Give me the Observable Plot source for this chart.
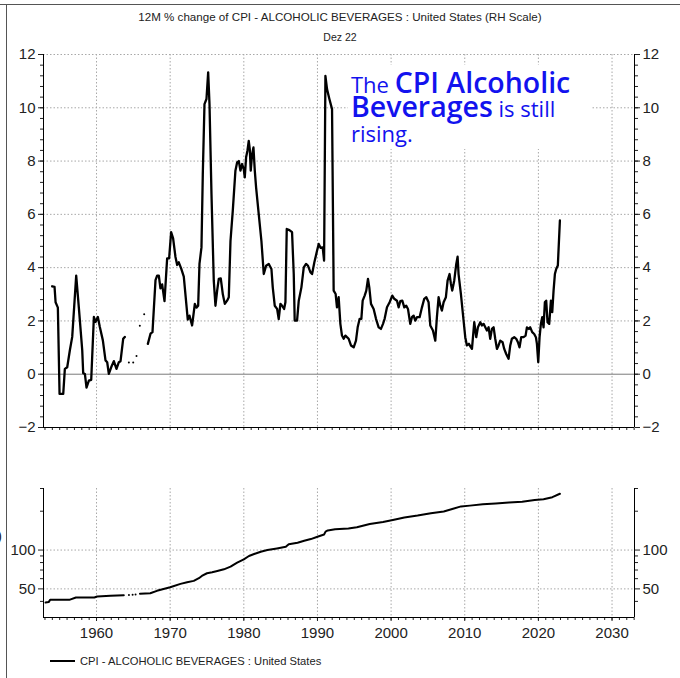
<!DOCTYPE html>
<html>
<head>
<meta charset="utf-8">
<script src="https://cdn.jsdelivr.net/npm/d3@7"></script>
<script src="https://cdn.jsdelivr.net/npm/@observablehq/plot@0.6"></script>
<style>
  body { margin: 0; background: #fff; }
  #fig { position: relative; width: 680px; height: 678px; overflow: hidden;
         font-family: "Liberation Sans", Arial, sans-serif; color: #222; }
  #frame { position: absolute; left: 6px; top: 4px; right: -2px; bottom: -2px;
           border-left: 1px solid #555; border-top: 1px solid #555; }
  #frameTop { position: absolute; left: 0; top: 4px; width: 8px; height: 1px; background: #555; }
  #title { position: absolute; left: 0; top: 10px; width: 680px; text-align: center; font-size: 11.6px; }
  #subtitle { position: absolute; left: 0; top: 31px; width: 680px; text-align: center; font-size: 10.5px; }
  .panel { position: absolute; left: 0; }
  #note { position: absolute; left: 348px; top: 65px; width: 244px; height: 84px; background: #fff;
          font-family: "Open Sans", sans-serif; color: #1212ee; }
  #note div { position: absolute; left: 3px; white-space: nowrap; }
  #note .r { font-size: 22px; font-weight: 400; }
  #note .b { font-size: 28.5px; font-weight: 600; }
  #legend { position: absolute; left: 50px; top: 655px; font-size: 11.2px; display: flex; align-items: center; }
  #legend .swatch { width: 25px; height: 2.5px; background: #000; margin-right: 5px; }
  #clip { position: absolute; left: -3px; top: 527px; font-size: 15px; }
</style>
</head>
<body>
<div id="fig">
  <div id="frame"></div>
  <div id="frameTop"></div>
  <div id="title">12M % change of CPI - ALCOHOLIC BEVERAGES : United States (RH Scale)</div>
  <div id="subtitle">Dez 22</div>
  <div id="top" class="panel" style="top:44px"></div>
  <div id="bottom" class="panel" style="top:470px"></div>
  <div id="note">
    <div style="top:-2.5px"><span class="r">The </span><span class="b">CPI Alcoholic</span></div>
    <div style="top:21.5px"><span class="b">Beverages</span><span class="r"> is still</span></div>
    <div style="top:52.5px"><span class="r">rising.</span></div>
  </div>
  <div id="clip">)</div>
  <div id="legend"><span class="swatch"></span><span>CPI - ALCOHOLIC BEVERAGES : United States</span></div>
</div>
<script>
// 12-month % change of the alcoholic beverages CPI (null marks the gap in the series)
const pctYears = [
  1953.98, 1954.30, 1954.44, 1954.75, 1954.98, 1955.48, 1955.70, 1956.02, 1956.38, 1956.70,
  1957.24, 1957.60, 1958.06, 1958.19, 1958.42, 1958.64, 1958.96, 1959.28, 1959.64, 1959.86,
  1960.18, 1960.45, 1960.86, 1961.22, 1961.45, 1961.67, 1961.99, 1962.35, 1962.71, 1963.03,
  1963.26, 1963.62, 1963.84, 1965.40,
  1966.97, 1967.33, 1967.60, 1968.01, 1968.23, 1968.46, 1968.68, 1968.91, 1969.23, 1969.59,
  1969.86, 1970.13, 1970.40, 1970.72, 1970.95, 1971.17, 1971.49, 1971.85, 1972.39, 1972.62,
  1972.98, 1973.35, 1973.57, 1973.80, 1973.98, 1974.25, 1974.43, 1974.66, 1974.93, 1975.16,
  1975.34, 1975.61, 1975.92, 1976.15, 1976.38, 1976.60, 1976.87, 1977.15, 1977.42, 1977.73,
  1977.96, 1978.19, 1978.50, 1978.86, 1979.09, 1979.32, 1979.54, 1979.77, 1979.99, 1980.13,
  1980.31, 1980.49, 1980.67, 1980.81, 1980.94, 1981.13, 1981.31, 1981.49, 1981.67, 1982.03,
  1982.39, 1982.71, 1983.03, 1983.39, 1983.75, 1983.93, 1984.20, 1984.52, 1984.74, 1984.97,
  1985.20, 1985.47, 1985.65, 1985.83, 1986.19, 1986.55, 1986.78, 1986.91, 1987.23, 1987.46,
  1987.82, 1988.14, 1988.45, 1988.72, 1989.04, 1989.27, 1989.58, 1989.95, 1990.17, 1990.44,
  1990.71, 1990.90, 1991.08, 1991.30, 1991.62, 1991.98, 1992.20, 1992.47, 1992.65, 1992.88,
  1993.11, 1993.33, 1993.56, 1993.79, 1994.01, 1994.24, 1994.55, 1994.92, 1995.23, 1995.46,
  1995.73, 1995.96, 1996.14, 1996.41, 1996.63, 1996.86, 1997.04, 1997.27, 1997.63, 1997.95,
  1998.31, 1998.62, 1998.90, 1999.12, 1999.44, 1999.80, 2000.16, 2000.43, 2000.80, 2001.02,
  2001.25, 2001.52, 2001.79, 2002.06, 2002.29, 2002.60, 2002.83, 2003.06, 2003.28, 2003.51,
  2003.87, 2004.19, 2004.50, 2004.78, 2005.09, 2005.32, 2005.68, 2006.00, 2006.22, 2006.45,
  2006.68, 2006.90, 2007.13, 2007.44, 2007.67, 2007.94, 2008.12, 2008.30, 2008.57, 2008.85,
  2009.03, 2009.16, 2009.48, 2009.75, 2010.07, 2010.29, 2010.56, 2010.84, 2010.98, 2011.29,
  2011.56, 2011.79, 2012.11, 2012.33, 2012.56, 2012.79, 2013.01, 2013.24, 2013.46, 2013.69,
  2013.92, 2014.14, 2014.37, 2014.59, 2014.82, 2015.14, 2015.36, 2015.63, 2015.95, 2016.18,
  2016.40, 2016.72, 2016.99, 2017.22, 2017.44, 2017.67, 2017.99, 2018.26, 2018.44, 2018.71,
  2018.89, 2019.16, 2019.43, 2019.66, 2019.80, 2019.98, 2020.16, 2020.34, 2020.52, 2020.70,
  2020.88, 2021.06, 2021.24, 2021.47, 2021.70, 2021.88, 2022.06, 2022.24, 2022.42, 2022.64,
  2022.92
];
const pctValues = [
  3.30, 3.28, 2.70, 2.50, -0.74, -0.74, 0.20, 0.26, 0.90, 1.40,
  3.70, 2.50, 0.90, 0.04, 0.01, -0.50, -0.24, -0.21, 2.15, 1.96,
  2.15, 1.77, 1.27, 0.52, 0.45, 0.01, 0.26, 0.49, 0.20, 0.45,
  0.49, 1.33, 1.40, null,
  1.14, 1.52, 1.58, 3.53, 3.70, 3.70, 3.22, 3.37, 2.74, 4.35,
  4.35, 5.33, 5.10, 4.40, 4.10, 4.20, 3.97, 3.66, 2.05, 2.20,
  1.83, 2.64, 2.50, 2.57, 4.14, 4.76, 7.50, 10.14, 10.33, 11.33,
  10.14, 6.76, 3.51, 2.57, 3.14, 3.58, 3.60, 3.00, 2.64, 2.76,
  2.89, 5.00, 6.13, 7.64, 7.95, 8.00, 7.64, 7.89, 7.70, 7.39,
  8.14, 8.39, 8.76, 8.45, 7.64, 8.26, 8.51, 7.64, 7.00, 6.00,
  5.00, 3.76, 4.07, 4.14, 3.95, 3.26, 2.57, 2.45, 2.07, 2.64,
  2.57, 2.45, 2.70, 5.45, 5.41, 5.33, 3.76, 2.01, 2.01, 2.76,
  3.26, 4.01, 4.14, 4.07, 3.83, 3.76, 4.20, 4.64, 4.89, 4.74,
  4.76, 4.26, 11.20, 10.70, 10.33, 9.95, 3.14, 3.01, 2.51, 2.89,
  1.89, 1.45, 1.33, 1.45, 1.39, 1.33, 1.08, 1.01, 1.26, 1.76,
  2.08, 2.08, 2.76, 2.95, 3.14, 3.58, 3.26, 2.64, 2.45, 2.08,
  1.76, 1.70, 1.89, 2.08, 2.51, 2.70, 2.95, 2.83, 2.76, 2.51,
  2.74, 2.76, 2.51, 2.57, 2.45, 1.89, 2.14, 2.20, 2.01, 2.14,
  2.14, 2.51, 2.83, 2.89, 2.70, 1.83, 1.64, 1.26, 2.14, 2.89,
  2.57, 2.39, 2.70, 2.89, 3.51, 3.76, 3.39, 3.14, 3.51, 4.14,
  4.41, 3.76, 3.01, 2.26, 1.39, 1.08, 1.14, 1.01, 0.95, 1.95,
  1.39, 1.76, 1.95, 1.83, 1.89, 1.76, 1.64, 1.76, 1.33, 1.70,
  1.76, 1.33, 0.95, 1.08, 1.26, 1.20, 0.95, 0.76, 0.58, 1.08,
  1.33, 1.39, 1.33, 1.20, 1.01, 1.39, 1.39, 1.45, 1.76, 1.70,
  1.76, 1.58, 1.51, 1.39, 1.14, 0.45, 1.39, 1.89, 2.14, 1.76,
  2.70, 2.76, 1.95, 1.89, 2.76, 2.33, 3.14, 3.76, 3.95, 4.08,
  5.77
];
// isolated 12-month readings inside the gap
const pctDotYears = [1964.39, 1964.98, 1965.43, 1965.88, 1966.47];
const pctDotValues = [0.44, 0.44, 0.68, 1.82, 2.25];

// CPI level, alcoholic beverages (log scale)
const cpiYears = [
  1953.08, 1953.50, 1953.70, 1956.30, 1957.20, 1959.70, 1960.10, 1961.90, 1963.70, 1964.80,
  1965.90, 1967.30, 1968.20, 1970.00, 1971.40, 1972.30, 1973.20, 1973.90, 1974.30, 1975.00,
  1975.70, 1976.40, 1977.30, 1978.20, 1979.10, 1980.00, 1980.70, 1981.40, 1982.30, 1983.20,
  1984.50, 1985.70, 1986.10, 1987.30, 1988.20, 1989.10, 1990.00, 1990.90, 1991.10, 1991.40,
  1992.40, 1994.20, 1995.35, 1997.10, 1998.90, 2000.40, 2001.80, 2003.60, 2005.40, 2007.15,
  2008.30, 2009.50, 2010.70, 2012.45, 2014.20, 2016.00, 2017.80, 2019.50, 2020.70, 2021.90,
  2022.92
];
const cpiValues = [
  39.2, 39.5, 41.1, 41.1, 42.9, 42.9, 43.6, 44.2, 44.7, null,
  45.8, 46.3, 48.3, 51.5, 54.7, 56.3, 57.7, 60.5, 63.0, 66.1,
  67.3, 68.8, 70.9, 74.3, 79.8, 84.7, 89.9, 93.1, 97.1, 100,
  103, 106, 111, 113.9, 118, 121.6, 126.7, 132, 139, 142,
  145, 147, 150, 159, 165, 172, 179, 185, 193, 199,
  208, 218, 221, 226, 230, 234, 237, 244, 248, 257,
  273
];
const cpiDotYears = [1964.4, 1964.9, 1965.3];
const cpiDotValues = [44.8, 45.0, 45.3];

// axis ticks
const decadeTicks = [1960, 1970, 1980, 1990, 2000, 2010, 2020, 2030];
const yearTicks = d3.range(1953, 2034);
const pctMajor = [-2, 0, 2, 4, 6, 8, 10, 12];
const pctMinor = d3.range(0, 36).map(i => +(-2 + i * 0.4).toFixed(1));
const cpiMajor = [50, 100];
const cpiMinor = [40, 60, 70, 80, 90, 200, 300];

const xDomain = [1952.8, 2033.05];
const toRows = (xs, ys) => xs.map((x, i) => ({year: x, value: ys[i]}));
const grid = {stroke: "#a8a8a8", strokeDasharray: "1.5,2", strokeWidth: 1};
const font = {fontFamily: "'Liberation Sans', Arial, sans-serif", fontSize: "15px", color: "#222", background: "transparent", overflow: "visible"};
const blank = () => "";

const topChart = Plot.plot({
  width: 680, height: 400,
  marginLeft: 43, marginRight: 46, marginTop: 10, marginBottom: 17,
  style: font,
  x: {domain: xDomain, axis: null},
  y: {domain: [-2, 12], axis: null},
  marks: [
    Plot.ruleX(decadeTicks.filter(d => d < 2033), grid),
    Plot.ruleY(pctMajor.filter(d => d > 0), grid),
    Plot.ruleY([0], {stroke: "#7a7a7a", strokeWidth: 1}),
    Plot.line(toRows(pctYears, pctValues), {x: "year", y: "value", stroke: "#000", strokeWidth: 2.3}),
    Plot.dot(toRows(pctDotYears, pctDotValues), {x: "year", y: "value", r: 1, fill: "#000"}),
    Plot.axisY(pctMajor, {anchor: "left", tickSize: 5, tickPadding: 3, label: null}),
    Plot.axisY(pctMinor, {anchor: "left", tickSize: 3, tickFormat: blank, label: null}),
    Plot.axisY(pctMajor, {anchor: "right", tickSize: 5, tickPadding: 3, label: null}),
    Plot.axisY(pctMinor, {anchor: "right", tickSize: 3, tickFormat: blank, label: null}),
    Plot.axisX(yearTicks, {anchor: "bottom", tickSize: 3, tickFormat: blank, label: null}),
    Plot.ruleX(xDomain, {stroke: "#000"}),
    Plot.ruleY([-2], {stroke: "#000"})
  ]
});
document.getElementById("top").append(topChart);

const bottomChart = Plot.plot({
  width: 680, height: 180,
  marginLeft: 43, marginRight: 46, marginTop: 18, marginBottom: 33,
  style: font,
  x: {domain: xDomain, axis: null},
  y: {type: "log", domain: [30, 300], axis: null},
  marks: [
    Plot.ruleX(decadeTicks.filter(d => d < 2033), grid),
    Plot.ruleY(cpiMajor, grid),
    Plot.line(toRows(cpiYears, cpiValues), {x: "year", y: "value", stroke: "#000", strokeWidth: 2}),
    Plot.dot(toRows(cpiDotYears, cpiDotValues), {x: "year", y: "value", r: 1, fill: "#000"}),
    Plot.axisY(cpiMajor, {anchor: "left", tickSize: 5, tickFormat: blank, label: null}),
    Plot.axisY(cpiMinor, {anchor: "left", tickSize: 3, tickFormat: blank, label: null}),
    Plot.axisY(cpiMajor, {anchor: "right", tickSize: 5, tickFormat: blank, label: null}),
    Plot.axisY(cpiMinor, {anchor: "right", tickSize: 3, tickFormat: blank, label: null}),
    Plot.text(cpiMajor, {y: d => d, text: d => String(d), frameAnchor: "left", textAnchor: "end", dx: -8}),
    Plot.text(cpiMajor, {y: d => d, text: d => String(d), frameAnchor: "right", textAnchor: "start", dx: 8}),
    Plot.axisX(decadeTicks, {anchor: "bottom", tickSize: 4, tickPadding: 6, tickFormat: d3.format("d"), label: null}),
    Plot.axisX(yearTicks, {anchor: "bottom", tickSize: 3, tickFormat: blank, label: null}),
    Plot.ruleX(xDomain, {stroke: "#000"}),
    Plot.ruleY([30], {stroke: "#000"})
  ]
});
document.getElementById("bottom").append(bottomChart);
</script>
</body>
</html>
